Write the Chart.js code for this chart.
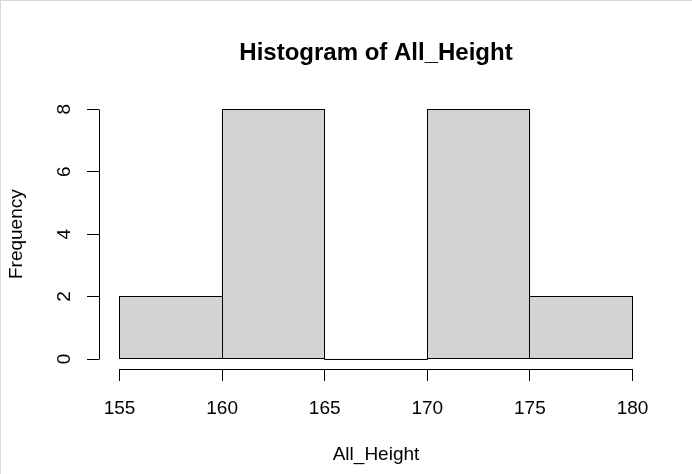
<!DOCTYPE html>
<html>
<head>
<meta charset="utf-8">
<script src="https://cdn.jsdelivr.net/npm/chart.js@4/dist/chart.umd.min.js"></script>
<style>
  html, body { margin: 0; padding: 0; background: #fff; }
  #wrap { position: relative; width: 692px; height: 474px; }
  #frame { position: absolute; left: 0; top: 0; right: 0; bottom: 0;
           border-top: 1px solid #d5dae0; border-left: 1px solid #d5dae0; pointer-events: none; }
</style>
</head>
<body>
<div id="wrap">
  <canvas id="histChart" width="692" height="474"></canvas>
  <div id="frame"></div>
</div>
<script>
// histogram of All_Height
const breaks = [155, 160, 165, 170, 175, 180];
const counts = [2, 8, 0, 8, 2];
const xTicks = [155, 160, 165, 170, 175, 180];
const yTicks = [0, 2, 4, 6, 8];

const FONT = "'Liberation Sans', Arial, sans-serif";
Chart.defaults.color = '#000';
Chart.defaults.font.family = FONT;

const align = p => Math.round(p - 0.5) + 0.5;

// R draws the bar outlines once per edge, and the axis lines only between end ticks
const rStyle = {
  id: 'rStyle',
  afterDatasetsDraw(chart) {
    const ctx = chart.ctx;
    const meta = chart.getDatasetMeta(0);
    ctx.save();
    ctx.strokeStyle = '#000';
    ctx.lineWidth = 1;
    meta.data.forEach(bar => {
      const { x, y, base, width } = bar.getProps(['x', 'y', 'base', 'width'], true);
      const l = Math.floor(x - width / 2) + 0.5;
      const r = Math.floor(x + width / 2) + 0.5;
      const t = Math.floor(y) + 0.5;
      const b = Math.floor(base) + 0.5;
      ctx.strokeRect(l, t, r - l, b - t);
    });
    ctx.restore();
  },
  afterDraw(chart) {
    const ctx = chart.ctx;
    const xs = chart.scales.x, ys = chart.scales.y;
    ctx.save();
    ctx.strokeStyle = '#000';
    ctx.lineWidth = 1;
    ctx.beginPath();
    const xb = align(xs.top);
    ctx.moveTo(align(xs.getPixelForValue(xTicks[0])), xb);
    ctx.lineTo(align(xs.getPixelForValue(xTicks[xTicks.length - 1])), xb);
    const yl = align(ys.right);
    ctx.moveTo(yl, align(ys.getPixelForValue(yTicks[0])));
    ctx.lineTo(yl, align(ys.getPixelForValue(yTicks[yTicks.length - 1])));
    ctx.stroke();
    ctx.restore();
  }
};

new Chart(document.getElementById('histChart'), {
  type: 'bar',
  data: {
    datasets: [{
      data: counts.map((c, i) => ({ x: (breaks[i] + breaks[i + 1]) / 2, y: c })),
      backgroundColor: '#d3d3d3',
      borderWidth: 0,
      barPercentage: 1,
      categoryPercentage: 1
    }]
  },
  options: {
    responsive: false,
    animation: false,
    events: [],
    layout: { padding: { top: 0, left: 0, right: 39, bottom: 0 } },
    plugins: {
      legend: { display: false },
      tooltip: { enabled: false },
      title: {
        display: true,
        fullSize: false,
        text: 'Histogram of All_Height',
        color: '#000',
        font: { family: FONT, size: 24, weight: 'bold' },
        padding: { top: 39.2, bottom: 31.3 }
      }
    },
    scales: {
      x: {
        type: 'linear',
        min: 154,
        max: 181,
        offset: false,
        afterBuildTicks: s => { s.ticks = xTicks.map(v => ({ value: v })); },
        afterFit: s => { s.height = 105; },
        grid: { offset: false, drawOnChartArea: false, drawTicks: true, tickLength: 12, color: '#000' },
        border: { display: false },
        ticks: { color: '#000', font: { size: 19 }, padding: 16, maxRotation: 0, autoSkip: false },
        title: {
          display: true,
          text: 'All_Height',
          color: '#000',
          font: { size: 19 },
          padding: { top: 0, bottom: 7.6 }
        }
      },
      y: {
        min: -0.32,
        max: 8.32,
        afterBuildTicks: s => { s.ticks = yTicks.map(v => ({ value: v })); },
        afterFit: s => { s.width = 99; },
        grid: { drawOnChartArea: false, drawTicks: true, tickLength: 12, color: '#000' },
        border: { display: false },
        ticks: { color: '#000', font: { size: 19 }, padding: 16.5, minRotation: 90, maxRotation: 90, crossAlign: 'center' },
        title: {
          display: true,
          text: 'Frequency',
          color: '#000',
          font: { size: 19 },
          padding: { top: 5, bottom: 0 }
        }
      }
    }
  },
  plugins: [rStyle]
});
</script>
</body>
</html>
